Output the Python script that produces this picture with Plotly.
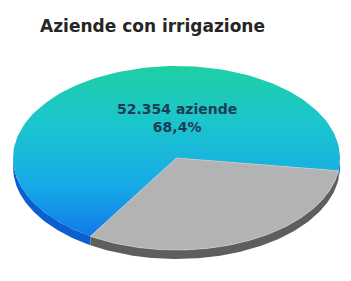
import numpy as np
import plotly.graph_objects as go

# ---- data ----
categories = ["Con irrigazione", "Senza irrigazione"]
values = [68.4, 31.6]
counts = ["52.354", None]
title_text = "Aziende con irrigazione"

# ---- geometry of the tilted pie (layout, pixels; screen y grows downward) ----
W, H = 351, 281
cx, cy = 176.5, 158
rx, ry = 163.5, 92
depth = 9
start_deg = 8.0  # second slice starts just below 3 o'clock, sweeping clockwise on screen

total = sum(values)
gray_sweep = 360.0 * values[1] / total
gray_a0, gray_a1 = start_deg, start_deg + gray_sweep
blue_a0, blue_a1 = gray_a1, start_deg + 360.0

fig = go.Figure()


def arc(a0, a1, n=160):
    t = np.radians(np.linspace(a0, a1, n))
    return cx + rx * np.cos(t), cy + ry * np.sin(t)


def side(a0, a1, color):
    # visible front part: angles in (0, 180) modulo 360
    for base in (0, 360):
        s, e = max(a0, base), min(a1, base + 180)
        if e > s:
            xs, ys = arc(s, e)
            xx = np.concatenate([xs, xs[::-1], xs[:1]])
            yy = np.concatenate([ys, ys[::-1] + depth, ys[:1]])
            fig.add_trace(go.Scatter(x=xx, y=yy, mode="lines", fill="toself",
                                     fillcolor=color, line=dict(width=0, color=color),
                                     hoverinfo="skip", showlegend=False))


def wedge(a0, a1):
    xs, ys = arc(a0, a1)
    return np.concatenate([[cx], xs, [cx]]), np.concatenate([[cy], ys, [cy]])


side(blue_a0, blue_a1, "#0b5fcf")
side(gray_a0, gray_a1, "#5e5e5e")

bx, by = wedge(blue_a0, blue_a1)
fig.add_trace(go.Scatter(
    x=bx, y=by, mode="lines", fill="toself",
    fillgradient=dict(type="vertical", start=cy - ry, stop=cy + ry,
                      colorscale=[[0, "#1fcfa3"], [0.3, "#1bc6cc"],
                                  [0.65, "#17aae8"], [1, "#0e6de6"]]),
    line=dict(width=0), hoverinfo="skip", showlegend=False, name=categories[0]))

gx, gy = wedge(gray_a0, gray_a1)
fig.add_trace(go.Scatter(
    x=gx, y=gy, mode="lines", fill="toself", fillcolor="#b3b3b3",
    line=dict(width=0.8, color="#c8c8c8"), hoverinfo="skip", showlegend=False,
    name=categories[1]))

fig.add_annotation(x=cx, y=118, xref="x", yref="y",
                   text=f"{counts[0]} aziende<br>{str(values[0]).replace('.', ',')}%",
                   showarrow=False,
                   font=dict(family="DejaVu Sans", size=14, color="#1d3b55", weight="bold"))

fig.add_annotation(x=38, y=26, xref="x", yref="y", xanchor="left",
                   text=title_text, showarrow=False,
                   font=dict(family="DejaVu Sans", size=17, color="#262626", weight="bold"))

fig.update_xaxes(range=[0, W], visible=False, fixedrange=True)
fig.update_yaxes(range=[H, 0], visible=False, fixedrange=True)
fig.update_layout(width=W, height=H, margin=dict(l=0, r=0, t=0, b=0),
                  paper_bgcolor="white", plot_bgcolor="white")

fig.write_html("out.html", config={"displayModeBar": False},
               post_script="document.body.style.margin='0';document.body.style.overflow='hidden';")
